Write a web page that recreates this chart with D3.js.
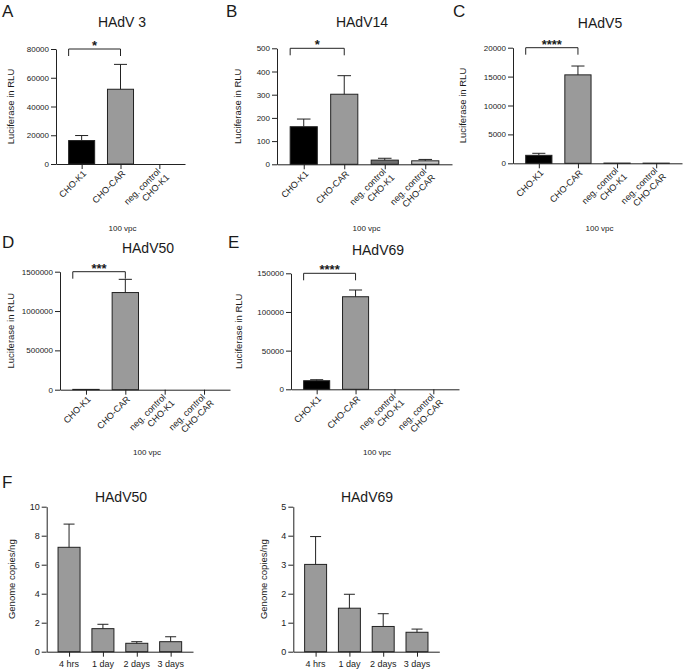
<!DOCTYPE html>
<html>
<head>
<meta charset="utf-8">
<title>HAdV luciferase</title>
<script src="https://cdn.jsdelivr.net/npm/d3@7"></script>
<style>
body { margin: 0; background: #fff; }
text { font-family: "Liberation Sans", Arial, Helvetica, sans-serif; fill: #1a1a1a; }
</style>
</head>
<body>
<div id="canvas"></div>
<script>
// categories
var cellLabels4 = ["CHO-K1", "CHO-CAR", "neg. control\nCHO-K1", "neg. control\nCHO-CAR"];
var cellLabels3 = cellLabels4.slice(0, 3);
var timeLabels = ["4 hrs", "1 day", "2 days", "3 days"];
var cellColors = ["#000000", "#9a9a9a", "#6e6e6e", "#c4c4c4"];
var timeColor = "#9a9a9a";

// values (mean and upper error)
var hadv3Mean = [16300, 52000, 0];
var hadv3Sd = [3500, 17300, 0];
var hadv3Ticks = [0, 20000, 40000, 60000, 80000];

var hadv14Mean = [162, 302, 18, 15];
var hadv14Sd = [33, 80, 8, 6];
var hadv14Ticks = [0, 100, 200, 300, 400, 500];

var hadv5Mean = [1380, 15300, 40, 30];
var hadv5Sd = [350, 1530, 0, 0];
var hadv5Ticks = [0, 5000, 10000, 15000, 20000];

var hadv50Mean = [4000, 1235000, 0, 0];
var hadv50Sd = [0, 168000, 0, 0];
var hadv50Ticks = [0, 500000, 1000000, 1500000];

var hadv69Mean = [11100, 119700, 0, 0];
var hadv69Sd = [1300, 8700, 0, 0];
var hadv69Ticks = [0, 50000, 100000, 150000];

var gc50Mean = [7.2, 1.59, 0.58, 0.69];
var gc50Sd = [1.6, 0.30, 0.11, 0.34];
var gc50Ticks = [0, 2, 4, 6, 8, 10];

var gc69Mean = [3.01, 1.50, 0.87, 0.67];
var gc69Sd = [0.96, 0.48, 0.44, 0.11];
var gc69Ticks = [0, 1, 2, 3, 4, 5];

var svg = d3.select("#canvas").append("svg")
    .attr("width", 685)
    .attr("height", 671);

function drawPanel(p) {
    var g = svg.append("g");

    // panel letter and title
    if (p.letter) {
        g.append("text").attr("x", p.lx).attr("y", p.ly)
            .attr("font-size", "17px").text(p.letter);
    }
    g.append("text").attr("x", p.tx).attr("y", p.ty)
        .attr("font-size", "14px").attr("text-anchor", "middle").text(p.title);

    var x = d3.scalePoint().domain(p.cats).range([p.x0, p.x1]).padding(0.66);
    var y = d3.scaleLinear().domain([0, p.ticks[p.ticks.length - 1]]).range([p.y0, p.y1]);
    var bw = x.step() * p.barFrac;

    // bars
    g.selectAll(".bar").data(p.mean).enter().append("rect")
        .attr("x", function(d, i) { return x(p.cats[i]) - bw / 2; })
        .attr("y", function(d) { return y(d); })
        .attr("width", bw)
        .attr("height", function(d) { return p.y0 - y(d); })
        .attr("fill", function(d, i) { return p.colors[i]; })
        .attr("stroke", "#222").attr("stroke-width", 1);

    // error bars (upper only)
    p.mean.forEach(function(m, i) {
        if (!p.sd[i]) return;
        var cx = x(p.cats[i]);
        g.append("line").attr("x1", cx).attr("x2", cx)
            .attr("y1", y(m)).attr("y2", y(m + p.sd[i]))
            .attr("stroke", "#222");
        g.append("line").attr("x1", cx - bw / 4).attr("x2", cx + bw / 4)
            .attr("y1", y(m + p.sd[i])).attr("y2", y(m + p.sd[i]))
            .attr("stroke", "#222");
    });

    // y axis
    var ya = g.append("g").attr("transform", "translate(" + p.x0 + ",0)")
        .call(d3.axisLeft(y).tickValues(p.ticks).tickFormat(d3.format("d"))
            .tickSize(5).tickSizeOuter(0).tickPadding(2));
    ya.selectAll("text").attr("font-size", p.tickFont).attr("font-family", null).attr("fill", "#1a1a1a");

    // x axis
    g.append("g").attr("transform", "translate(0," + p.y0 + ")")
        .call(d3.axisBottom(x).tickSize(5).tickSizeOuter(0).tickFormat(""));
    g.selectAll(".domain, .tick line").attr("stroke", "#222");

    if (p.rotate) {
        p.cats.forEach(function(c) {
            var lines = c.split("\n");
            var t = g.append("text")
                .attr("transform", "translate(" + (x(c) + 3) + "," + (p.y0 + 8) + ") rotate(-45)")
                .attr("text-anchor", "end").attr("font-size", "9px");
            if (lines.length == 1) {
                t.append("tspan").attr("x", 0).attr("dy", "0.35em").text(lines[0]);
            } else {
                t.append("tspan").attr("x", -1).attr("dy", "-0.1em").text(lines[0]);
                t.append("tspan").attr("x", 1).attr("dy", "1.15em").text(lines[1]);
            }
        });
    } else {
        p.cats.forEach(function(c) {
            g.append("text").attr("x", x(c)).attr("y", p.y0 + 15)
                .attr("text-anchor", "middle").attr("font-size", "9px").text(c);
        });
    }

    // y label
    g.append("text")
        .attr("transform", "translate(" + p.ylabX + "," + ((p.y0 + p.y1) / 2) + ") rotate(-90)")
        .attr("text-anchor", "middle").attr("font-size", "9.5px").text(p.ylab);

    // x title
    if (p.xtitle) {
        g.append("text").attr("x", (p.x0 + p.x1) / 2 + 2).attr("y", p.xtitleY)
            .attr("text-anchor", "middle").attr("font-size", "8px").text(p.xtitle);
    }

    // significance bracket: left edge of bar 1 to centre of bar 2
    if (p.stars) {
        var bx1 = x(p.cats[0]) - bw / 2, bx2 = x(p.cats[1]);
        var by = p.y1;
        g.append("path")
            .attr("d", "M" + bx1 + "," + (by + 7) + "V" + by + "H" + bx2 + "V" + (by + 7))
            .attr("fill", "none").attr("stroke", "#222");
        g.append("text").attr("x", (bx1 + bx2) / 2).attr("y", by + 1)
            .attr("text-anchor", "middle").attr("font-size", "13px").attr("font-weight", "bold")
            .text(p.stars);
    }
}

var lucLab = "Luciferase in RLU";

drawPanel({letter: "A", lx: 2, ly: 17, title: "HAdV 3", tx: 122, ty: 27,
    cats: cellLabels3, mean: hadv3Mean, sd: hadv3Sd, ticks: hadv3Ticks, colors: cellColors,
    x0: 56, x1: 185, y0: 164, y1: 49, barFrac: 0.67, ylabX: 14, ylab: lucLab,
    rotate: true, tickFont: "8px", xtitle: "100 vpc", xtitleY: 231, stars: "*"});

drawPanel({letter: "B", lx: 226, ly: 17, title: "HAdV14", tx: 362, ty: 27,
    cats: cellLabels4, mean: hadv14Mean, sd: hadv14Sd, ticks: hadv14Ticks, colors: cellColors,
    x0: 277, x1: 452, y0: 164.3, y1: 48.3, barFrac: 0.67, ylabX: 241, ylab: lucLab,
    rotate: true, tickFont: "8px", xtitle: "100 vpc", xtitleY: 231, stars: "*"});

drawPanel({letter: "C", lx: 453, ly: 17, title: "HAdV5", tx: 600, ty: 28,
    cats: cellLabels4, mean: hadv5Mean, sd: hadv5Sd, ticks: hadv5Ticks, colors: cellColors,
    x0: 513, x1: 682, y0: 163.3, y1: 47.7, barFrac: 0.67, ylabX: 466, ylab: lucLab,
    rotate: true, tickFont: "8px", xtitle: "100 vpc", xtitleY: 231, stars: "****"});

drawPanel({letter: "D", lx: 2, ly: 248, title: "HAdV50", tx: 148, ty: 253,
    cats: cellLabels4, mean: hadv50Mean, sd: hadv50Sd, ticks: hadv50Ticks, colors: cellColors,
    x0: 60, x1: 230, y0: 389.7, y1: 271.7, barFrac: 0.67, ylabX: 14, ylab: lucLab,
    rotate: true, tickFont: "8px", xtitle: "100 vpc", xtitleY: 455, stars: "***"});

drawPanel({letter: "E", lx: 228, ly: 248, title: "HAdV69", tx: 378, ty: 255,
    cats: cellLabels4, mean: hadv69Mean, sd: hadv69Sd, ticks: hadv69Ticks, colors: cellColors,
    x0: 291, x1: 459, y0: 389.3, y1: 273.3, barFrac: 0.67, ylabX: 242, ylab: lucLab,
    rotate: true, tickFont: "8px", xtitle: "100 vpc", xtitleY: 455, stars: "****"});

drawPanel({letter: "F", lx: 2, ly: 488, title: "HAdV50", tx: 121, ty: 502,
    cats: timeLabels, mean: gc50Mean, sd: gc50Sd, ticks: gc50Ticks,
    colors: timeLabels.map(function() { return timeColor; }),
    x0: 46.7, x1: 193, y0: 651.7, y1: 506.7, barFrac: 0.65, ylabX: 15, ylab: "Genome copies/ng",
    rotate: false, tickFont: "9px"});

drawPanel({letter: null, title: "HAdV69", tx: 367, ty: 502,
    cats: timeLabels, mean: gc69Mean, sd: gc69Sd, ticks: gc69Ticks,
    colors: timeLabels.map(function() { return timeColor; }),
    x0: 293.3, x1: 439.3, y0: 651.7, y1: 506.7, barFrac: 0.65, ylabX: 267, ylab: "Genome copies/ng",
    rotate: false, tickFont: "9px"});
</script>
</body>
</html>
